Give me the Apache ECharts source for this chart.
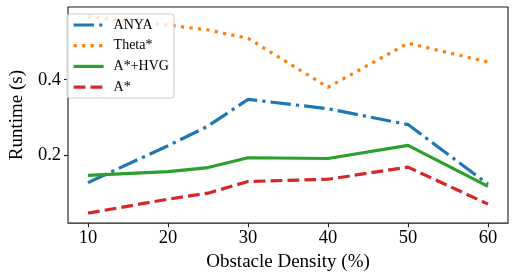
<!DOCTYPE html>
<html><head><meta charset="utf-8">
<script src="https://cdn.jsdelivr.net/npm/echarts@6/dist/echarts.min.js"></script>
<style>html,body{margin:0;padding:0;background:#fff}#c{width:513px;height:277px}</style>
</head><body><div id="c"></div>
<script>
const densities = [10, 20, 25, 30, 40, 50, 60];
const anya = [0.127, 0.225, 0.277, 0.348, 0.323, 0.281, 0.123];
const theta = [0.567, 0.545, 0.532, 0.510, 0.380, 0.497, 0.447];
const hvg = [0.146, 0.156, 0.167, 0.193, 0.191, 0.226, 0.117];
const astar = [0.046, 0.083, 0.099, 0.130, 0.136, 0.168, 0.070];
const xTicks = [10, 20, 30, 40, 50, 60];
const yTicks = [0.2, 0.4];
const seriesNames = ['ANYA', 'Theta*', 'A*+HVG', 'A*'];

const font = 'Liberation Serif';
const lw = 3.2;
function mk(name, vals, color, type) {
  return {
    name, type: 'line', data: densities.map((d, i) => [d, vals[i]]),
    symbol: 'none', lineStyle: { color, width: lw, type, cap: 'butt' }, itemStyle: { color },
    emphasis: { disabled: true }
  };
}
const chart = echarts.init(document.getElementById('c'), null, { renderer: 'canvas' });
chart.setOption({
  animation: false,
  grid: { left: 60, top: 7, right: 5, bottom: 53, show: true, borderColor: '#1a1a1a', borderWidth: 1.1, backgroundColor: 'transparent' },
  legend: {
    orient: 'vertical', left: 67, top: 14, padding: [4, 5, 4, 5],
    itemWidth: 30, itemHeight: 14, itemGap: 6.7,
    itemStyle: { opacity: 0, borderWidth: 0 },
    lineStyle: { width: lw },
    borderColor: '#cccccc', borderWidth: 1, borderRadius: 3,
    backgroundColor: 'rgba(255,255,255,0.8)',
    textStyle: { fontFamily: font, fontSize: 14, color: '#000', padding: [0, 0, 0, 5] },
    data: seriesNames
  },
  xAxis: {
    type: 'value', min: 7.5, max: 62.5,
    name: 'Obstacle Density (%)', nameLocation: 'middle', nameGap: 27,
    nameTextStyle: { fontFamily: font, fontSize: 19, color: '#000' },
    axisLine: { show: false },
    axisTick: { show: true, inside: false, length: 4, customValues: xTicks, lineStyle: { color: '#1a1a1a', width: 1.1 } },
    axisLabel: { customValues: xTicks, fontFamily: font, fontSize: 18.5, color: '#000', margin: 6 },
    splitLine: { show: false }
  },
  yAxis: {
    type: 'value', min: 0.0196, max: 0.593,
    name: 'Runtime (s)', nameLocation: 'middle', nameGap: 36, nameRotate: 90,
    nameTextStyle: { fontFamily: font, fontSize: 19, color: '#000' },
    axisLine: { show: false },
    axisTick: { show: true, inside: false, length: 4, customValues: yTicks, lineStyle: { color: '#1a1a1a', width: 1.1 } },
    axisLabel: { customValues: yTicks, fontFamily: font, fontSize: 18.5, color: '#000', margin: 7, formatter: v => v.toFixed(1) },
    splitLine: { show: false }
  },
  series: [
    mk('ANYA', anya, '#1f77b4', [20.5, 5.1, 3.2, 5.1]),
    mk('Theta*', theta, '#ff7f0e', [3.2, 5.3]),
    mk('A*+HVG', hvg, '#2ca02c', 'solid'),
    mk('A*', astar, '#d62728', [11.8, 5.1])
  ]
});
</script></body></html>
